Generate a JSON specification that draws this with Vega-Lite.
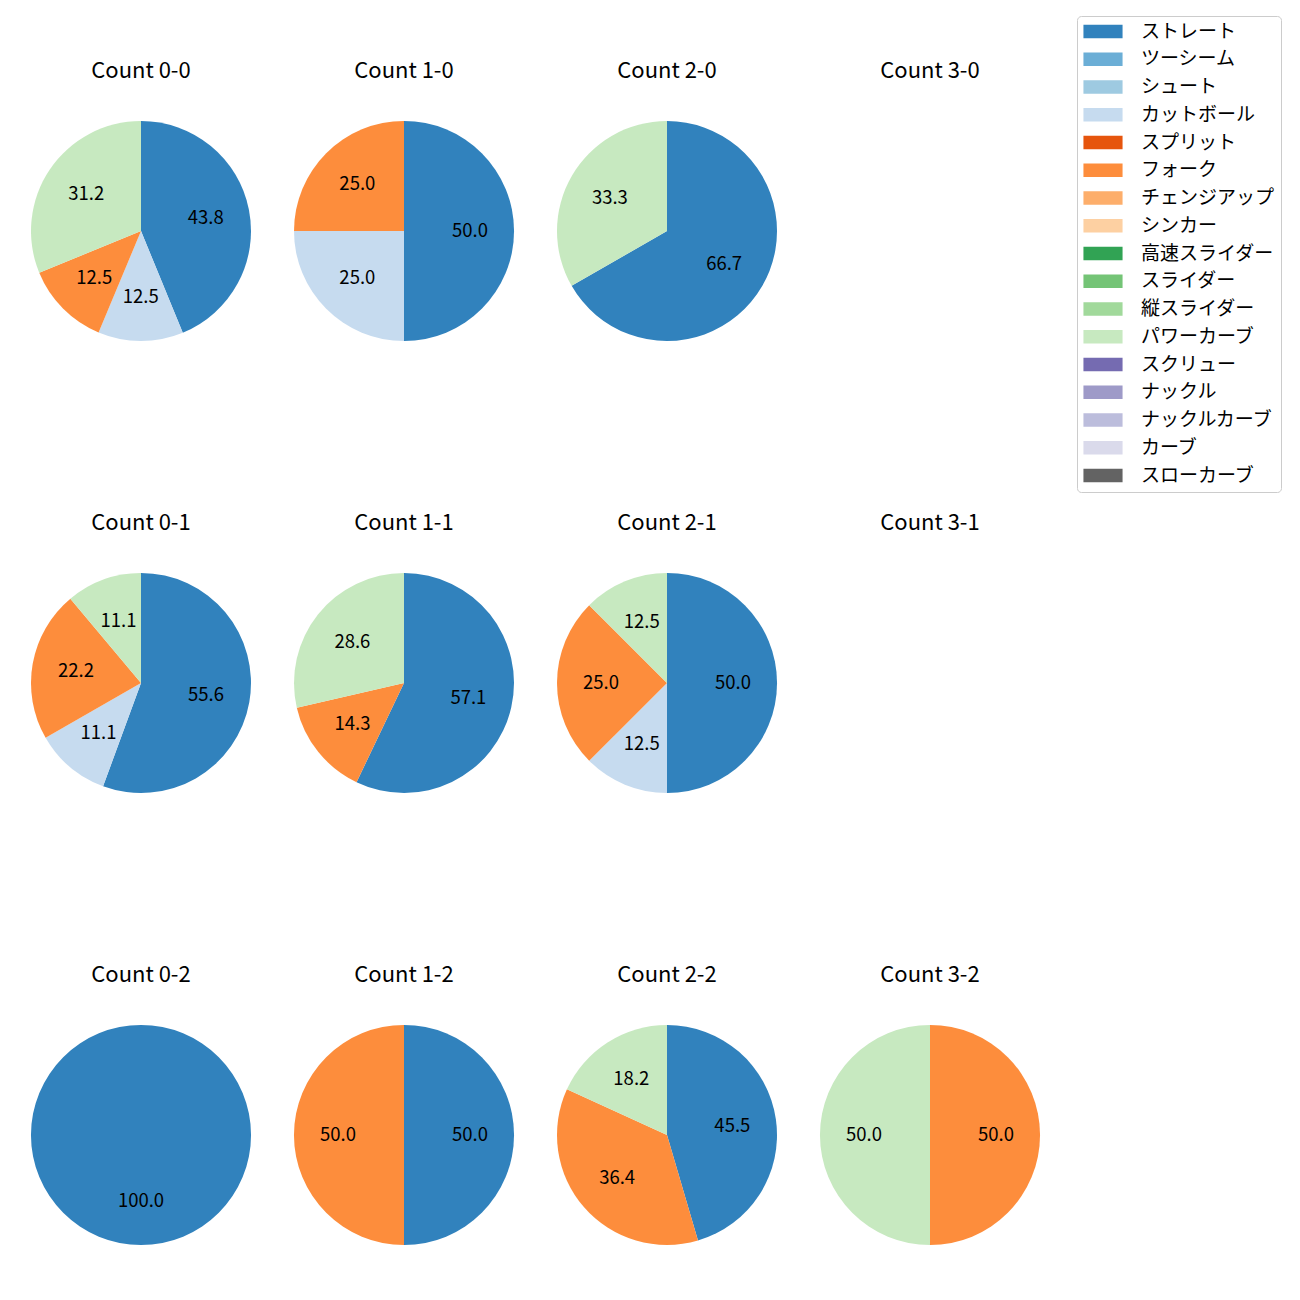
{
  "$schema": "https://vega.github.io/schema/vega-lite/v6.json",
  "padding": {"left": 26, "top": 15, "right": 0, "bottom": 0},
  "background": "white",
  "data": {"values": [
    {"count": "Count 0-0", "pitch": "ストレート", "k": 1, "pct": 43.8},
    {"count": "Count 0-0", "pitch": "カットボール", "k": 4, "pct": 12.5},
    {"count": "Count 0-0", "pitch": "フォーク", "k": 6, "pct": 12.5},
    {"count": "Count 0-0", "pitch": "パワーカーブ", "k": 12, "pct": 31.2},
    {"count": "Count 1-0", "pitch": "ストレート", "k": 1, "pct": 50.0},
    {"count": "Count 1-0", "pitch": "カットボール", "k": 4, "pct": 25.0},
    {"count": "Count 1-0", "pitch": "フォーク", "k": 6, "pct": 25.0},
    {"count": "Count 2-0", "pitch": "ストレート", "k": 1, "pct": 66.7},
    {"count": "Count 2-0", "pitch": "パワーカーブ", "k": 12, "pct": 33.3},
    {"count": "Count 3-0", "pitch": "ストレート", "k": 1, "pct": 0},
    {"count": "Count 0-1", "pitch": "ストレート", "k": 1, "pct": 55.6},
    {"count": "Count 0-1", "pitch": "カットボール", "k": 4, "pct": 11.1},
    {"count": "Count 0-1", "pitch": "フォーク", "k": 6, "pct": 22.2},
    {"count": "Count 0-1", "pitch": "パワーカーブ", "k": 12, "pct": 11.1},
    {"count": "Count 1-1", "pitch": "ストレート", "k": 1, "pct": 57.1},
    {"count": "Count 1-1", "pitch": "フォーク", "k": 6, "pct": 14.3},
    {"count": "Count 1-1", "pitch": "パワーカーブ", "k": 12, "pct": 28.6},
    {"count": "Count 2-1", "pitch": "ストレート", "k": 1, "pct": 50.0},
    {"count": "Count 2-1", "pitch": "カットボール", "k": 4, "pct": 12.5},
    {"count": "Count 2-1", "pitch": "フォーク", "k": 6, "pct": 25.0},
    {"count": "Count 2-1", "pitch": "パワーカーブ", "k": 12, "pct": 12.5},
    {"count": "Count 3-1", "pitch": "ストレート", "k": 1, "pct": 0},
    {"count": "Count 0-2", "pitch": "ストレート", "k": 1, "pct": 100.0},
    {"count": "Count 1-2", "pitch": "ストレート", "k": 1, "pct": 50.0},
    {"count": "Count 1-2", "pitch": "フォーク", "k": 6, "pct": 50.0},
    {"count": "Count 2-2", "pitch": "ストレート", "k": 1, "pct": 45.5},
    {"count": "Count 2-2", "pitch": "フォーク", "k": 6, "pct": 36.4},
    {"count": "Count 2-2", "pitch": "パワーカーブ", "k": 12, "pct": 18.2},
    {"count": "Count 3-2", "pitch": "フォーク", "k": 6, "pct": 50.0},
    {"count": "Count 3-2", "pitch": "パワーカーブ", "k": 12, "pct": 50.0}
  ]},
  "facet": {
    "field": "count",
    "type": "nominal",
    "sort": ["Count 0-0", "Count 1-0", "Count 2-0", "Count 3-0", "Count 0-1", "Count 1-1", "Count 2-1", "Count 3-1", "Count 0-2", "Count 1-2", "Count 2-2", "Count 3-2"],
    "header": {"title": null, "labelFontSize": 22, "labelFont": "Noto Sans CJK JP", "labelColor": "black", "labelPadding": 33}
  },
  "columns": 4,
  "spacing": {"column": 33, "row": 166},
  "resolve": {"scale": {"theta": "independent"}},
  "spec": {
    "width": 230,
    "height": 230,
    "layer": [
      {
        "mark": {"type": "arc", "outerRadius": 110},
        "encoding": {
          "theta": {"field": "pct", "type": "quantitative", "stack": true},
          "order": {"field": "k", "type": "quantitative"},
          "color": {
            "field": "pitch",
            "type": "nominal",
            "scale": {
              "domain": ["ストレート", "ツーシーム", "シュート", "カットボール", "スプリット", "フォーク", "チェンジアップ", "シンカー", "高速スライダー", "スライダー", "縦スライダー", "パワーカーブ", "スクリュー", "ナックル", "ナックルカーブ", "カーブ", "スローカーブ"],
              "range": ["#3182bd", "#6baed6", "#9ecae1", "#c6dbef", "#e6550d", "#fd8d3c", "#fdae6b", "#fdd0a2", "#31a354", "#74c476", "#a1d99b", "#c7e9c0", "#756bb1", "#9e9ac8", "#bcbddc", "#dadaeb", "#636363"]
            },
            "legend": {
              "title": null,
              "orient": "none",
              "legendX": 1051,
              "legendY": -100,
              "labelFont": "Noto Sans CJK JP",
              "labelFontSize": 19,
              "labelColor": "black",
              "symbolType": "M-2.9,-1H2.9V1H-2.9Z",
              "symbolSize": 182,
              "symbolStrokeWidth": 0,
              "symbolOpacity": 1,
              "symbolOffset": 10.5,
              "labelOffset": 28.5,
              "rowPadding": 7.75,
              "padding": 6,
              "strokeColor": "#cccccc",
              "cornerRadius": 4,
              "fillColor": "white"
            }
          }
        }
      },
      {
        "transform": [{"filter": "datum.pct > 0"}],
        "mark": {"type": "text", "radius": 66, "fontSize": 18.5, "font": "Noto Sans CJK JP", "color": "black", "align": "center", "baseline": "middle"},
        "encoding": {
          "theta": {"field": "pct", "type": "quantitative", "stack": true},
          "order": {"field": "k", "type": "quantitative"},
          "text": {"field": "pct", "type": "quantitative", "format": ".1f"}
        }
      }
    ]
  },
  "config": {"view": {"stroke": null}}
}
